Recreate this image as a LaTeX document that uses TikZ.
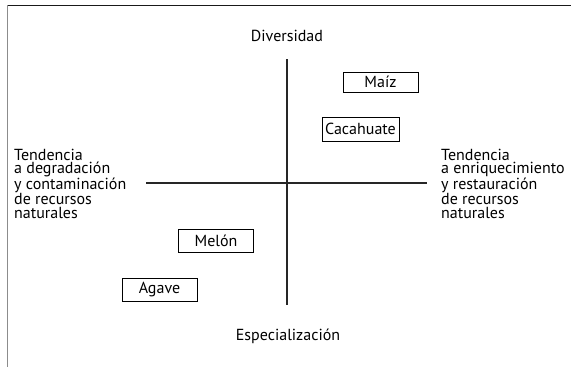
\documentclass[tikz,border=0pt]{standalone}
\usepackage{fontspec}
\setmainfont{PT Sans}
\tikzset{
  crop/.style={draw=black,line width=0.7pt,minimum width=75pt,minimum height=21pt,inner sep=1pt},
  side/.style={align=left,anchor=north west,inner sep=0pt},
  axis/.style={black!85,line width=1.8pt},
}
\begin{document}
\begin{tikzpicture}[x=1pt,y=-1pt,font=\fontsize{16}{13.5}\selectfont]
  \useasboundingbox (0,0) rectangle (571,367);
  % open frame, top and left
  \coordinate (fl) at (7.5,5);
  \coordinate (fr) at (571,5);
  \coordinate (fb) at (7.5,367);
  \draw[black!90,line width=1pt] (fl) -- (fr);
  \draw[black!45,line width=1.8pt] (fl) -- (fb);
  % axes
  \coordinate (xl) at (146,183.3);
  \coordinate (xr) at (427,183.3);
  \coordinate (yt) at (286.7,59);
  \coordinate (yb) at (286.7,305);
  \draw[axis] (xl) -- (xr);
  \draw[axis] (yt) -- (yb);
  % axis labels
  \node[anchor=base] (div) at (287,41.5) {Diversidad};
  \node[anchor=base] (esp) at (288,340) {Especialización};
  \node[side] (deg) at (14,148.5) {Tendencia\\a degradación\\y contaminación\\de recursos\\naturales};
  \node[side] (enr) at (441,148.5) {Tendencia\\a enriquecimiento\\y restauración\\de recursos\\naturales};
  % crops
  \node[crop,minimum height=20pt] (maiz) at (380.5,82) {Maíz};
  \node[crop,minimum width=77pt,minimum height=24pt] (cacahuate) at (360.5,129) {Cacahuate};
  \node[crop,minimum height=23pt] (melon) at (216,240.5) {Melón};
  \node[crop,minimum height=23pt] (agave) at (159.5,289.5) {Agave};
\end{tikzpicture}
\end{document}
